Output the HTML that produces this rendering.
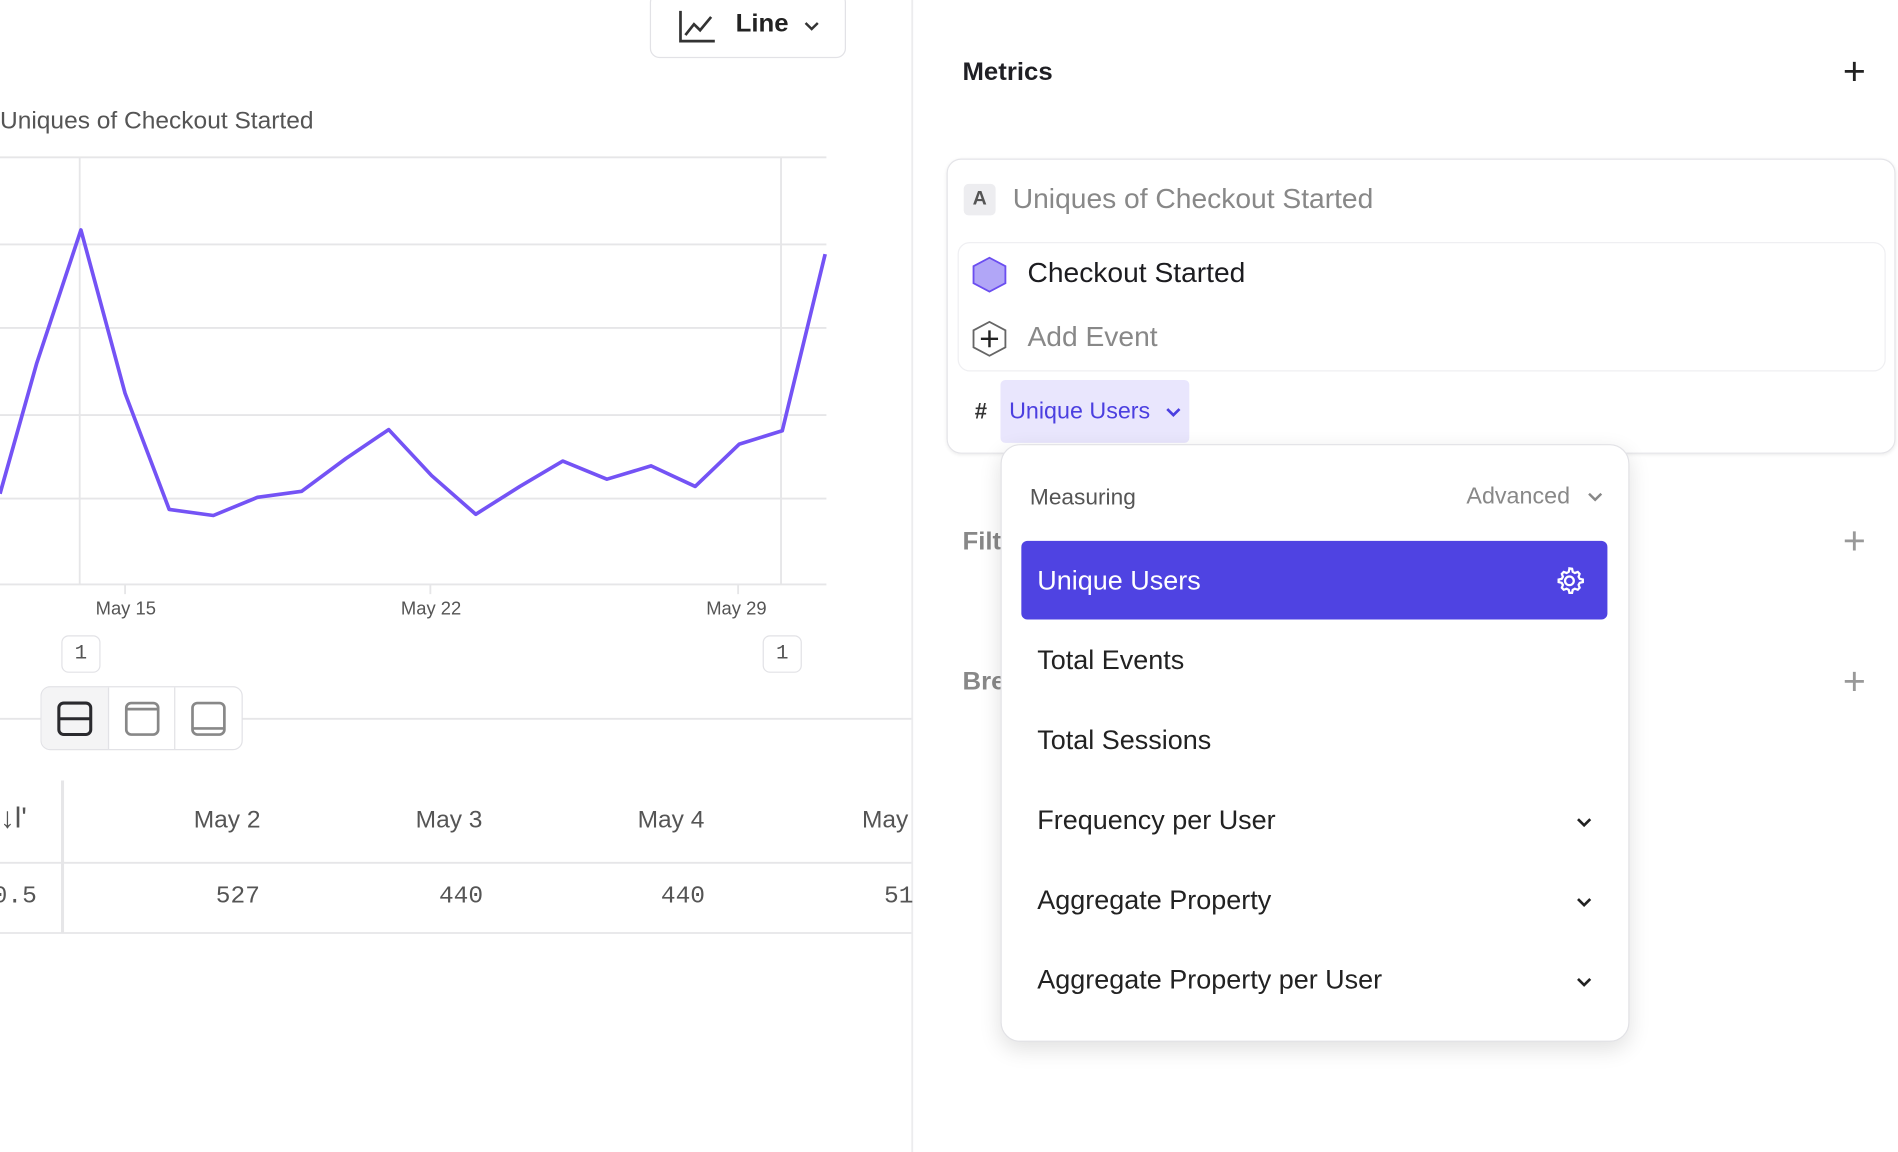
<!DOCTYPE html>
<html><head><meta charset="utf-8">
<style>
html,body{margin:0;padding:0;width:1898px;height:1152px;overflow:hidden;background:#fff}
#s{position:absolute;left:0;top:0;width:1548px;height:952px;transform:scale(1.22610,1.21008);transform-origin:0 0;font-family:"Liberation Sans",sans-serif;color:#1f1f24}
.a{position:absolute;white-space:nowrap}
.mono{font-family:"Liberation Mono",monospace}
.item{position:absolute;left:846px;font-size:22px;color:#222}
.chev{position:absolute;left:1284px}
</style></head><body><div id="s">
<!-- left panel -->
<div class="a" style="left:530px;top:-6px;width:158px;height:52px;border:1px solid #e2e2e6;border-radius:8px;background:#fff"></div>
<svg class="a" style="left:553px;top:7px" width="32" height="30" viewBox="0 0 32 30"><path d="M2 2V27H30" stroke="#333" stroke-width="2.2" fill="none"/><path d="M6 22L13 13L18 18L27 7" stroke="#333" stroke-width="2.2" fill="none"/></svg>
<div class="a" style="left:600px;top:8px;font-size:21px;font-weight:bold;color:#222">Line</div>
<svg class="a" style="left:655px;top:16px" width="14" height="12"><path d="M2 3L7 8L12 3" stroke="#333" stroke-width="2" fill="none"/></svg>
<div class="a" style="left:0;top:89px;font-size:20px;color:#555">Uniques of Checkout Started</div>
<svg class="a" style="left:0;top:0" width="745" height="952">
<g stroke="#e6e6e8" stroke-width="1.5">
<line x1="0" y1="130" x2="674" y2="130"/><line x1="0" y1="202" x2="674" y2="202"/><line x1="0" y1="271" x2="674" y2="271"/><line x1="0" y1="343" x2="674" y2="343"/><line x1="0" y1="412" x2="674" y2="412"/><line x1="0" y1="483" x2="674" y2="483"/>
<line x1="65" y1="130" x2="65" y2="483"/><line x1="637" y1="130" x2="637" y2="483"/>
<line x1="102" y1="483" x2="102" y2="491"/><line x1="351" y1="483" x2="351" y2="491"/><line x1="602" y1="483" x2="602" y2="491"/>
<line x1="0" y1="594" x2="744" y2="594"/>
<line x1="0" y1="713" x2="744" y2="713"/><line x1="0" y1="771" x2="744" y2="771"/>
<line x1="51" y1="645" x2="51" y2="771" stroke-width="2.5"/>
<line x1="744" y1="0" x2="744" y2="952" stroke="#ececee"/>
</g>
<polyline fill="none" stroke="#7453f5" stroke-width="3" stroke-linejoin="round" points="0,408 30,300 66,190 102,325 138,421 174,426 210,411 246,406 282,379 317,355 352,393 388,425 424,402 459,381 495,396 531,385 567,402 603,367 638,356 673,210"/>
</svg>
<div class="a" style="left:78px;top:495px;font-size:15px;color:#555">May 15</div>
<div class="a" style="left:327px;top:495px;font-size:15px;color:#555">May 22</div>
<div class="a" style="left:576px;top:495px;font-size:15px;color:#555">May 29</div>
<div class="a mono" style="left:50px;top:525px;width:30px;height:29px;border:1px solid #e2e2e6;border-radius:6px;text-align:center;line-height:29px;font-size:17px;color:#555;background:#fff">1</div>
<div class="a mono" style="left:622px;top:525px;width:30px;height:29px;border:1px solid #e2e2e6;border-radius:6px;text-align:center;line-height:29px;font-size:17px;color:#555;background:#fff">1</div>
<div class="a" style="left:33px;top:567px;width:163px;height:51px;border:1px solid #e2e2e6;border-radius:8px;background:#fff;overflow:hidden">
<div class="a" style="left:0;top:0;width:54px;height:51px;background:#f4f4f5;border-right:1px solid #e2e2e6"></div>
<div class="a" style="left:108px;top:0;width:1px;height:51px;background:#e2e2e6"></div>
<svg class="a" style="left:12px;top:11px" width="30" height="30"><rect x="2" y="2" width="26" height="26" rx="4" stroke="#2a2a2e" stroke-width="2.5" fill="none"/><line x1="2" y1="15" x2="28" y2="15" stroke="#2a2a2e" stroke-width="2.5"/></svg>
<svg class="a" style="left:67px;top:11px" width="30" height="30"><rect x="2" y="2" width="26" height="26" rx="4" stroke="#888" stroke-width="2.2" fill="none"/><line x1="2" y1="7" x2="28" y2="7" stroke="#888" stroke-width="2.2"/></svg>
<svg class="a" style="left:121px;top:11px" width="30" height="30"><rect x="2" y="2" width="26" height="26" rx="4" stroke="#888" stroke-width="2.2" fill="none"/><line x1="2" y1="23" x2="28" y2="23" stroke="#888" stroke-width="2.2"/></svg>
</div>
<div class="a" style="left:0;top:663px;font-size:24px;color:#555">↓l'</div>
<div class="a" style="left:158px;top:667px;font-size:20px;color:#555">May 2</div>
<div class="a" style="left:339px;top:667px;font-size:20px;color:#555">May 3</div>
<div class="a" style="left:520px;top:667px;font-size:20px;color:#555">May 4</div>
<div class="a" style="left:703px;top:667px;font-size:20px;color:#555">May</div>
<div class="a mono" style="left:-6px;top:730px;font-size:20px;color:#555">0.5</div>
<div class="a mono" style="left:176px;top:730px;font-size:20px;color:#555">527</div>
<div class="a mono" style="left:358px;top:730px;font-size:20px;color:#555">440</div>
<div class="a mono" style="left:539px;top:730px;font-size:20px;color:#555">440</div>
<div class="a mono" style="left:721px;top:730px;font-size:20px;color:#555">51</div>
<!-- right panel -->
<div class="a" style="left:785px;top:48px;font-size:21px;font-weight:bold">Metrics</div>
<div class="a" style="left:1503px;top:41px;font-size:32px;color:#222">+</div>
<div class="a" style="left:785px;top:436px;font-size:21px;font-weight:bold;color:#888">Filt</div>
<div class="a" style="left:1503px;top:429px;font-size:32px;color:#999">+</div>
<div class="a" style="left:785px;top:552px;font-size:21px;font-weight:bold;color:#888">Bre</div>
<div class="a" style="left:1503px;top:545px;font-size:32px;color:#999">+</div>
<div class="a" style="left:772px;top:131px;width:772px;height:242px;border:1px solid #e4e4e8;border-radius:12px;box-shadow:0 1px 3px rgba(0,0,0,.08)"></div>
<div class="a" style="left:786px;top:152px;width:26px;height:26px;background:#ededf0;border-radius:4px;text-align:center;line-height:26px;font-weight:bold;font-size:16px;color:#555">A</div>
<div class="a" style="left:826px;top:151px;font-size:23px;color:#888">Uniques of Checkout Started</div>
<div class="a" style="left:781px;top:200px;width:755px;height:105px;border:1px solid #efeff2;border-radius:10px"></div>
<svg class="a" style="left:792px;top:211px" width="30" height="32"><polygon points="15,2 28,9 28,23 15,30 2,23 2,9" fill="#b1a6f7" stroke="#6b4ef0" stroke-width="1.5"/></svg>
<div class="a" style="left:838px;top:212px;font-size:23px;color:#1c1c20">Checkout Started</div>
<svg class="a" style="left:792px;top:264px" width="30" height="32"><polygon points="15,2 28,9 28,23 15,30 2,23 2,9" fill="#fff" stroke="#666" stroke-width="1.5"/><path d="M15 9V23M8 16H22" stroke="#222" stroke-width="2"/></svg>
<div class="a" style="left:838px;top:265px;font-size:23px;color:#888">Add Event</div>
<div class="a" style="left:795px;top:330px;font-size:18px;font-weight:bold;color:#333">#</div>
<div class="a" style="left:816px;top:314px;width:154px;height:52px;background:#e9e6fd;border-radius:4px"></div>
<div class="a" style="left:823px;top:330px;font-size:19px;color:#4b3fe0">Unique Users</div>
<svg class="a" style="left:950px;top:335px" width="14" height="12"><path d="M2 3L7 8L12 3" stroke="#4b3fe0" stroke-width="2.2" fill="none"/></svg>
<!-- dropdown -->
<div class="a" style="left:816px;top:367px;width:511px;height:492px;background:#fff;border:1px solid #e2e2e6;border-radius:16px;box-shadow:0 6px 18px rgba(0,0,0,.12)"></div>
<div class="a" style="left:840px;top:400px;font-size:18.5px;color:#555">Measuring</div>
<div class="a" style="left:1196px;top:400px;font-size:19px;color:#888">Advanced</div>
<svg class="a" style="left:1294px;top:405px" width="14" height="12"><path d="M2 3L7 8L12 3" stroke="#888" stroke-width="2" fill="none"/></svg>
<div class="a" style="left:833px;top:447px;width:478px;height:65px;background:#4f43e2;border-radius:5px"></div>
<div class="a" style="left:846px;top:467px;font-size:22px;color:#fff">Unique Users</div>
<svg class="a" style="left:1267px;top:467px" width="26" height="26" viewBox="0 0 24 24"><path d="M12 2.5l2 .3.5 2.3 1.6.9 2.2-.8 1.4 1.5-.8 2.2.9 1.6 2.3.5v2l-2.3.5-.9 1.6.8 2.2-1.4 1.5-2.2-.8-1.6.9-.5 2.3h-2l-.5-2.3-1.6-.9-2.2.8-1.4-1.5.8-2.2-.9-1.6-2.3-.5v-2l2.3-.5.9-1.6-.8-2.2 1.4-1.5 2.2.8 1.6-.9.5-2.3z" fill="none" stroke="#fff" stroke-width="1.7"/><circle cx="12" cy="12" r="3.3" fill="none" stroke="#fff" stroke-width="1.7"/></svg>
<div class="item" style="top:533px">Total Events</div>
<div class="item" style="top:599px">Total Sessions</div>
<div class="item" style="top:665px">Frequency per User</div>
<div class="item" style="top:731px">Aggregate Property</div>
<div class="item" style="top:797px">Aggregate Property per User</div>
<svg class="chev" style="top:673px" width="16" height="14"><path d="M3 4L8 9L13 4" stroke="#222" stroke-width="2.2" fill="none"/></svg>
<svg class="chev" style="top:739px" width="16" height="14"><path d="M3 4L8 9L13 4" stroke="#222" stroke-width="2.2" fill="none"/></svg>
<svg class="chev" style="top:805px" width="16" height="14"><path d="M3 4L8 9L13 4" stroke="#222" stroke-width="2.2" fill="none"/></svg>
</div></body></html>
